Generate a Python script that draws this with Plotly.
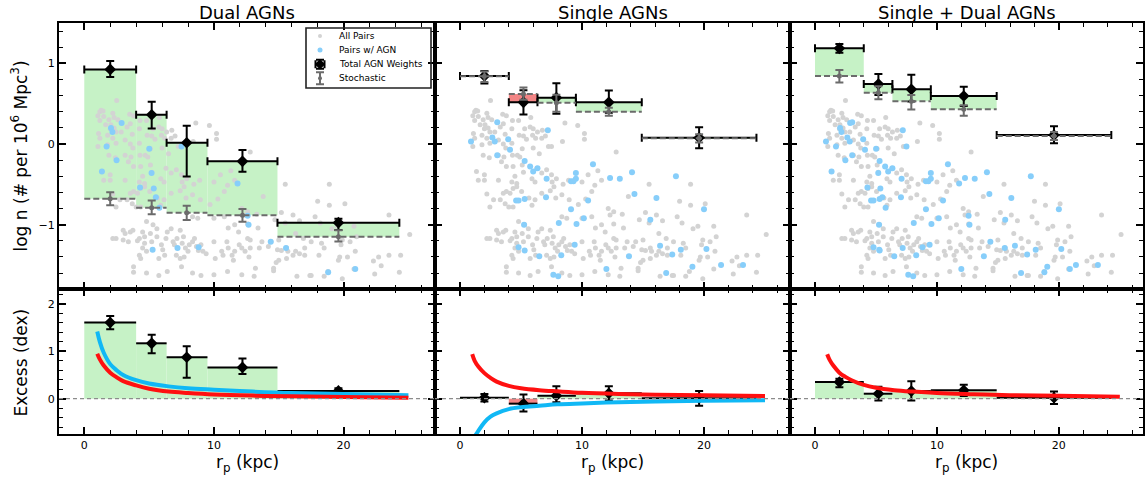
import plotly.graph_objects as go
from plotly.subplots import make_subplots

W, H = 1148, 482
FONT = "DejaVu Sans"

# ---------------- data ----------------
BIN_LO = [0.0, 4.0, 6.35, 9.5, 14.9]
BIN_HI = [4.0, 6.35, 9.5, 14.9, 24.3]
R_MID = [2.0, 5.2, 7.9, 12.2, 19.6]

# top row: log number density
DUAL_TOT = [0.925, 0.363, 0.016, -0.214, -0.975]
DUAL_TOT_UP = [0.105, 0.16, 0.21, 0.14, 0.05]
DUAL_TOT_DN = [0.095, 0.17, 0.42, 0.13, 0.09]
DUAL_STO = [-0.678, -0.789, -0.851, -0.884, -1.148]
DUAL_STO_UP = [0.08, 0.09, 0.085, 0.08, 0.08]
DUAL_STO_DN = [0.08, 0.08, 0.09, 0.08, 0.06]

SING_TOT = [0.843, 0.517, 0.574, 0.517, 0.078]
SING_TOT_UP = [0.062, 0.15, 0.178, 0.145, 0.13]
SING_TOT_DN = [0.093, 0.15, 0.20, 0.13, 0.13]
SING_STO = [0.84, 0.62, 0.51, 0.40, 0.07]
SING_STO_UP = [0.06, 0.08, 0.10, 0.05, 0.05]
SING_STO_DN = [0.07, 0.07, 0.11, 0.05, 0.05]

BOTH_TOT = [1.186, 0.743, 0.678, 0.595, 0.111]
BOTH_TOT_UP = [0.055, 0.125, 0.18, 0.115, 0.11]
BOTH_TOT_DN = [0.055, 0.135, 0.15, 0.125, 0.10]
BOTH_STO = [0.843, 0.636, 0.529, 0.43, 0.10]
BOTH_STO_UP = [0.075, 0.08, 0.08, 0.05, 0.05]
BOTH_STO_DN = [0.08, 0.08, 0.10, 0.08, 0.05]

# bottom row: excess (dex)
DUAL_EXC = [1.607, 1.17, 0.875, 0.66, 0.163]
DUAL_EXC_UP = [0.14, 0.18, 0.235, 0.19, 0.06]
DUAL_EXC_DN = [0.14, 0.21, 0.435, 0.14, 0.05]
SING_EXC = [0.02, -0.105, 0.063, 0.113, 0.01]
SING_EXC_UP = [0.08, 0.195, 0.20, 0.15, 0.15]
SING_EXC_DN = [0.08, 0.165, 0.14, 0.15, 0.16]
BOTH_EXC = [0.35, 0.105, 0.16, 0.177, 0.02]
BOTH_EXC_UP = [0.07, 0.145, 0.21, 0.12, 0.13]
BOTH_EXC_DN = [0.11, 0.145, 0.20, 0.12, 0.13]

# model curves
CURVE_R = [1.0, 1.2, 1.5, 2.0, 2.5, 3.0, 4.0, 5.0, 6.5, 8.0, 10.0, 13.0, 16.0, 20.0, 25.0]
DUAL_BLUE = [1.42, 1.20, 0.97, 0.73, 0.60, 0.50, 0.39, 0.32, 0.26, 0.22, 0.19, 0.15, 0.12, 0.10, 0.07]
DUAL_RED = [0.95, 0.83, 0.70, 0.55, 0.45, 0.37, 0.28, 0.21, 0.15, 0.12, 0.09, 0.065, 0.05, 0.035, 0.02]
SING_RED = [0.94, 0.80, 0.68, 0.54, 0.44, 0.36, 0.27, 0.22, 0.18, 0.155, 0.125, 0.10, 0.085, 0.07, 0.055]
SING_BLUE_R = [1.2, 1.5, 2.0, 2.5, 3.0, 4.0, 5.0, 6.5, 8.0, 10.0, 13.0, 16.0, 20.0, 25.0]
SING_BLUE = [-0.80, -0.68, -0.50, -0.38, -0.31, -0.22, -0.18, -0.15, -0.12, -0.10, -0.075, -0.06, -0.045, -0.035]
BOTH_RED = [0.94, 0.82, 0.70, 0.55, 0.46, 0.39, 0.29, 0.23, 0.18, 0.15, 0.12, 0.095, 0.075, 0.06, 0.04]

# all pairs (grey) : r_p (kpc), log n
ALL_R = [2.5, 1.3, 1.2, 1.45, 1.05, 1.5, 2.2, 2.3, 1.9, 1.2, 1.65, 2.05, 2.6, 3.5, 3.8, 4.3, 3.55, 4.8, 5.8, 5.3,
         5.75, 6.0, 6.35, 6.75, 2.3, 2.0, 2.45, 2.85, 3.3, 3.7, 4.25, 1.8, 1.1, 1.2, 2.2, 2.45, 1.8, 1.05, 3.15, 3.55,
         3.75, 4.25, 4.85, 5.2, 5.45, 5.95, 6.2, 6.7, 7.0, 7.25, 7.5, 6.5, 6.0, 5.1, 4.3, 4.7, 3.6, 3.4, 1.9, 2.4,
         3.15, 4.9, 5.1, 4.35, 3.8, 8.4, 8.6, 9.65, 10.2, 10.2, 6.3, 6.7, 7.1, 7.5, 2.0, 1.35, 1.5, 2.0, 3.15, 4.25,
         4.5, 4.65, 5.2, 5.9, 6.15, 7.55, 7.9, 8.45, 8.9, 10.0, 10.5, 11.3, 11.6, 2.2, 2.75, 3.3, 3.55, 3.8, 4.1, 4.35,
         4.65, 5.05, 3.7, 4.0, 2.45, 4.35, 5.65, 5.9, 6.15, 6.7, 7.4, 7.7, 7.85, 8.35, 8.95, 9.7, 10.3, 10.8, 11.05, 12.15,
         12.3, 11.6, 11.9, 11.1, 10.8, 10.0, 8.75, 8.35, 7.4, 6.7, 6.4, 6.3, 6.85, 4.8, 4.5, 4.65, 5.1, 5.2, 5.6, 3.55,
         3.75, 3.15, 2.45, 3.0, 3.4, 4.1, 4.5, 4.8, 4.35, 4.25, 5.95, 6.05, 6.2, 5.75, 6.95, 7.15, 7.65, 7.55, 7.8, 8.0,
         8.1, 8.35, 8.5, 8.65, 8.8, 9.0, 9.15, 9.4, 10.0, 10.1, 10.6, 10.7, 11.0, 11.1, 11.4, 11.5, 11.6, 11.95, 12.15, 7.1,
         7.4, 7.7, 3.8, 3.8, 4.8, 5.75, 6.4, 8.35, 9.0, 10.0, 11.05, 12.15, 7.5, 2.2, 3.0, 5.3, 5.6, 4.25, 4.65,
         12.8, 15.5, 18.9, 13.8, 18.0, 18.9, 20.1, 23.5, 12.6, 13.3, 15.2, 16.1, 14.7, 15.5, 16.6, 17.8, 18.2, 19.1, 19.5, 20.8,
         25.1, 12.6, 13.4, 12.6, 12.8, 13.7, 14.4, 15.0, 14.2, 13.5, 12.8, 12.4, 12.7, 14.9, 15.2, 15.6, 15.7, 16.3, 16.3, 16.9,
         17.0, 17.5, 18.3, 18.5, 18.1, 17.0, 16.6, 16.1, 15.6, 15.0, 14.8, 14.6, 14.6, 13.2, 13.1, 16.4, 17.4, 17.5, 18.5, 18.8,
         19.7, 19.6, 19.9, 19.9, 20.5, 21.0, 20.9, 20.3, 20.8, 22.3, 22.7, 22.9, 23.5, 24.4, 24.3, 22.4, 19.8]
ALL_LOGN = [0.54, 0.42, 0.40, 0.41, 0.35, 0.34, 0.38, 0.33, 0.30, 0.29, 0.24, 0.24, 0.30, 0.37, 0.35, 0.29, 0.25, 0.29, 0.33, 0.19,
            0.21, 0.19, 0.15, 0.17, 0.20, 0.19, 0.15, 0.15, 0.21, 0.12, 0.19, 0.11, 0.13, 0.07, 0.07, 0.01, -0.01, -0.03, 0.05, 0.0,
            -0.05, 0.01, 0.11, 0.10, 0.06, 0.11, 0.07, 0.07, 0.10, -0.03, -0.03, -0.12, -0.05, -0.06, -0.14, -0.14, -0.16, -0.22, -0.14, -0.17,
            -0.14, -0.16, -0.26, -0.28, -0.28, 0.03, 0.26, 0.23, 0.06, 0.13, -0.30, -0.36, -0.32, -0.38, -0.38, -0.34, -0.45, -0.45, -0.45, -0.47,
            -0.40, -0.49, -0.35, -0.43, -0.47, -0.47, -0.43, -0.50, -0.45, -0.47, -0.38, -0.33, -0.45, -0.62, -0.69, -0.69, -0.61, -0.59, -0.61, -0.55,
            -0.53, -0.59, -0.74, -0.78, -0.78, -0.78, -0.67, -0.76, -0.69, -0.61, -0.58, -0.53, -0.67, -0.63, -0.69, -0.75, -0.68, -0.59, -0.51, -0.80,
            -0.88, -1.00, -1.09, -1.04, -0.90, -0.92, -0.92, -0.90, -1.07, -1.05, -1.09, -1.17, -1.21, -0.96, -1.09, -1.15, -1.11, -1.21, -1.15, -1.09,
            -1.07, -1.11, -1.17, -1.19, -1.21, -1.20, -1.29, -1.33, -1.42, -1.38, -1.25, -1.31, -1.38, -1.42, -1.25, -1.17, -1.15, -1.23, -1.29, -1.33,
            -1.25, -1.21, -1.17, -1.27, -1.32, -1.25, -1.33, -1.36, -1.21, -1.42, -1.33, -1.38, -1.21, -1.29, -1.38, -1.44, -1.33, -1.25, -1.29, -1.38,
            -1.42, -1.40, -1.52, -1.59, -1.60, -1.63, -1.58, -1.60, -1.63, -1.62, -1.58, -1.62, -1.52, -1.17, -1.07, -1.00, -1.05, -1.17, -1.23,
            -0.10, -0.50, -0.50, -0.65, -0.71, -0.76, -0.74, -0.88, -0.84, -0.87, -0.85, -0.88, -0.94, -0.98, -0.95, -0.90, -0.98, -1.05, -1.02, -1.02,
            -1.12, -0.99, -1.04, -1.17, -1.19, -1.21, -1.21, -1.19, -1.27, -1.29, -1.29, -1.33, -1.40, -1.31, -1.32, -1.29, -1.33, -1.11, -1.33, -1.17,
            -1.29, -1.21, -1.23, -1.29, -1.38, -1.38, -1.36, -1.38, -1.42, -1.44, -1.47, -1.54, -1.57, -1.54, -1.64, -1.64, -1.63, -1.63, -1.64, -1.58,
            -1.40, -1.44, -1.67, -1.19, -1.21, -1.15, -1.33, -1.40, -1.55, -1.45, -1.40, -1.51, -1.38, -1.38, -1.59, -1.61, -1.25]

# pairs hosting a dual AGN (blue, left panel)
DUAL_AGN_R = [2.06, 2.17, 2.88, 1.72, 2.49, 1.36, 5.01, 5.19, 4.30, 5.36, 5.52, 5.79, 7.50, 11.82, 12.60, 12.67,
              14.38, 15.56, 5.27, 7.19, 8.82, 18.81, 20.90]
DUAL_AGN_LOGN = [0.20, 0.15, 0.26, -0.03, -0.20, -0.34, -0.06, -0.36, -0.54, -0.55, -0.66, -0.79, -0.03, -0.49, -0.89, -1.00,
                 -1.21, -1.29, -1.31, -1.29, -1.28, -1.59, -1.55]
# pairs hosting a single AGN (blue, middle panel)
SING_AGN_R = [3.05, 0.9, 2.65, 2.85, 3.95, 4.1, 3.05, 7.2, 5.3, 5.75, 6.35, 6.0, 7.1, 9.5, 9.5, 9.1, 9.3, 10.9, 12.3,
              4.6, 4.8, 5.3, 7.05, 10.5, 9.1, 10.15, 9.55, 8.1, 5.25, 9.4, 4.8, 5.3, 6.5, 8.3, 7.65, 8.05, 12.0,
              13.1, 14.1, 17.7, 14.3, 16.1, 20.0, 15.6, 16.4, 18.1, 17.4, 20.2, 13.85, 19.05, 21.4, 23.2, 16.9]
SING_AGN_LOGN = [0.27, 0.03, 0.08, 0.03, 0.06, -0.07, -0.14, 0.17, -0.21, -0.28, -0.30, -0.34, -0.43, -0.36, -0.43, -0.46, -0.46, -0.25, -0.42,
                 -0.70, -0.70, -0.68, -0.66, -0.70, -0.81, -0.92, -0.99, -0.98, -1.00, -1.25, -1.28, -1.32, -1.39, -1.38, -1.62, -1.64, -1.55,
                 -0.43, -0.35, -0.40, -0.62, -0.67, -0.81, -0.94, -1.26, -1.31, -1.37, -1.30, -1.39, -1.52, -1.50, -1.50, -1.60]

TITLES = ["Dual AGNs", "Single AGNs", "Single + Dual AGNs"]
LEG_LABELS = ["All Pairs", "Pairs w/ AGN", "Total AGN Weights", "Stochastic"]

# ---------------- styles ----------------
GREY_DOT = "#d3d3d3"
BLUE_DOT = "#87cefa"
GREEN_BOX = "#c6f2c6"
RED_BOX = "#f28585"
STO_COL = "#6b6b6b"
RED_LINE = "#ff1010"
BLUE_LINE = "#10b8f5"

fig = make_subplots(rows=2, cols=3)

PX_X = [(59, 435), (435, 790), (790, 1143)]
XR = [[-1.95, 27.05], [-2.05, 27.05], [-2.05, 26.9]]
TOP_PX = (23, 289)
BOT_PX = (289, 434)


def dom_x(a, b):
    return [a / W, b / W]


def dom_y(t, b):
    return [1 - b / H, 1 - t / H]


def boxes(col, row, lo, hi, base, top):
    xs, ws, bs, hs, cs = [], [], [], [], []
    for l, h, b, t in zip(lo, hi, base, top):
        xs.append((l + h) / 2)
        ws.append(h - l)
        bs.append(min(b, t))
        hs.append(abs(t - b))
        cs.append(GREEN_BOX if t >= b else RED_BOX)
    fig.add_trace(go.Bar(x=xs, y=hs, base=bs, width=ws, marker=dict(color=cs, line=dict(width=0)),
                         showlegend=False, hoverinfo="skip"), row=row, col=col)


def step_dashed(col, lo, hi, lev):
    xs, ys = [], []
    for l, h, v in zip(lo, hi, lev):
        xs += [l, h, None]
        ys += [v, v, None]
    fig.add_trace(go.Scatter(x=xs, y=ys, mode="lines", line=dict(color=STO_COL, width=2, dash="6px,3px"),
                             showlegend=False, hoverinfo="skip"), row=1, col=col)


panels_top = [
    (DUAL_TOT, DUAL_TOT_UP, DUAL_TOT_DN, DUAL_STO, DUAL_STO_UP, DUAL_STO_DN),
    (SING_TOT, SING_TOT_UP, SING_TOT_DN, SING_STO, SING_STO_UP, SING_STO_DN),
    (BOTH_TOT, BOTH_TOT_UP, BOTH_TOT_DN, BOTH_STO, BOTH_STO_UP, BOTH_STO_DN),
]
panels_bot = [
    (DUAL_EXC, DUAL_EXC_UP, DUAL_EXC_DN),
    (SING_EXC, SING_EXC_UP, SING_EXC_DN),
    (BOTH_EXC, BOTH_EXC_UP, BOTH_EXC_DN),
]
blue_sets = [
    (DUAL_AGN_R, DUAL_AGN_LOGN),
    (SING_AGN_R, SING_AGN_LOGN),
    (DUAL_AGN_R + SING_AGN_R, DUAL_AGN_LOGN + SING_AGN_LOGN),
]

x_plus = [h - m for h, m in zip(BIN_HI, R_MID)]
x_minus = [m - l for l, m in zip(BIN_LO, R_MID)]

for i in range(3):
    col = i + 1
    tot, tu, td, sto, su, sd = panels_top[i]
    boxes(col, 1, BIN_LO, BIN_HI, sto, tot)
    fig.add_trace(go.Scatter(x=ALL_R, y=ALL_LOGN, mode="markers",
                             marker=dict(color=GREY_DOT, size=5, line=dict(width=0)),
                             showlegend=False, hoverinfo="skip"), row=1, col=col)
    br, bl = blue_sets[i]
    fig.add_trace(go.Scatter(x=br, y=bl, mode="markers",
                             marker=dict(color=BLUE_DOT, size=6, line=dict(width=0)),
                             showlegend=False, hoverinfo="skip"), row=1, col=col)
    fig.add_trace(go.Scatter(x=R_MID, y=tot, mode="markers",
                             marker=dict(symbol="diamond", size=9, color="black"),
                             error_y=dict(type="data", symmetric=False, array=tu, arrayminus=td,
                                          color="black", thickness=2, width=4),
                             error_x=dict(type="data", symmetric=False, array=x_plus, arrayminus=x_minus,
                                          color="black", thickness=2, width=4),
                             showlegend=False, hoverinfo="skip"), row=1, col=col)
    step_dashed(col, BIN_LO, BIN_HI, sto)
    fig.add_trace(go.Scatter(x=R_MID, y=sto, mode="markers",
                             marker=dict(symbol="circle", size=5, color=STO_COL),
                             error_y=dict(type="data", symmetric=False, array=su, arrayminus=sd,
                                          color=STO_COL, thickness=2, width=4),
                             showlegend=False, hoverinfo="skip"), row=1, col=col)

    exc, eu, ed = panels_bot[i]
    boxes(col, 2, BIN_LO, BIN_HI, [0] * 5, exc)
    fig.add_shape(type="line", xref=f"x{col + 3} domain", yref=f"y{col + 3}", x0=0, x1=1, y0=0, y1=0,
                  line=dict(color="#8c8c8c", width=1.2, dash="4px,3px"), layer="above")
    fig.add_trace(go.Scatter(x=R_MID, y=exc, mode="markers",
                             marker=dict(symbol="diamond", size=9, color="black"),
                             error_y=dict(type="data", symmetric=False, array=eu, arrayminus=ed,
                                          color="black", thickness=2, width=4),
                             error_x=dict(type="data", symmetric=False, array=x_plus, arrayminus=x_minus,
                                          color="black", thickness=2, width=0),
                             showlegend=False, hoverinfo="skip"), row=2, col=col)

fig.add_trace(go.Scatter(x=CURVE_R, y=DUAL_BLUE, mode="lines", line=dict(color=BLUE_LINE, width=4, shape="spline"),
                         showlegend=False, hoverinfo="skip"), row=2, col=1)
fig.add_trace(go.Scatter(x=CURVE_R, y=DUAL_RED, mode="lines", line=dict(color=RED_LINE, width=4, shape="spline"),
                         showlegend=False, hoverinfo="skip"), row=2, col=1)
fig.add_trace(go.Scatter(x=CURVE_R, y=SING_RED, mode="lines", line=dict(color=RED_LINE, width=4, shape="spline"),
                         showlegend=False, hoverinfo="skip"), row=2, col=2)
fig.add_trace(go.Scatter(x=SING_BLUE_R, y=SING_BLUE, mode="lines", line=dict(color=BLUE_LINE, width=4, shape="spline"),
                         showlegend=False, hoverinfo="skip"), row=2, col=2)
fig.add_trace(go.Scatter(x=CURVE_R, y=BOTH_RED, mode="lines", line=dict(color=RED_LINE, width=4, shape="spline"),
                         showlegend=False, hoverinfo="skip"), row=2, col=3)

# ---------------- axes ----------------
axis_common = dict(showline=True, linecolor="black", linewidth=2, mirror="allticks", ticks="inside",
                   ticklen=7, tickwidth=1.6, tickcolor="black", showgrid=False, zeroline=False,
                   tickfont=dict(family=FONT, size=11, color="black"))

for i in range(3):
    a, b = PX_X[i]
    for row in (1, 2):
        n = i + 1 + (row - 1) * 3
        xkey = "xaxis" if n == 1 else f"xaxis{n}"
        ykey = "yaxis" if n == 1 else f"yaxis{n}"
        fig.layout[xkey].update(domain=dom_x(a, b), range=XR[i], tick0=0, dtick=10,
                                showticklabels=(row == 2),
                                minor=dict(ticks="inside", dtick=2, tick0=0, ticklen=4, tickwidth=1.4,
                                           tickcolor="black", showgrid=False),
                                **axis_common)
        yr = [-1.797, 1.5] if row == 1 else [-0.746, 2.317]
        ydom = dom_y(*TOP_PX) if row == 1 else dom_y(*BOT_PX)
        fig.layout[ykey].update(domain=ydom, range=yr, tick0=0, dtick=1,
                                showticklabels=(i == 0),
                                minor=dict(ticks="inside", dtick=0.2, tick0=0, ticklen=4, tickwidth=1.4,
                                           tickcolor="black", showgrid=False),
                                **axis_common)

# ---------------- legend (drawn inside the first panel) ----------------
LEG_L, LEG_R, LEG_T, LEG_B = 306, 431, 28, 88
fig.update_layout(
    xaxis7=dict(domain=dom_x(LEG_L, LEG_R), range=[0, 1], visible=False, anchor="y7", fixedrange=True),
    yaxis7=dict(domain=dom_y(LEG_T, LEG_B), range=[0, 1], visible=False, anchor="x7", fixedrange=True),
)
LEG_ROWS = [0.867, 0.633, 0.395, 0.162]
fig.add_trace(go.Scatter(x=[0.112], y=[LEG_ROWS[0]], xaxis="x7", yaxis="y7", mode="markers",
                         marker=dict(color=GREY_DOT, size=4), showlegend=False, hoverinfo="skip"))
fig.add_trace(go.Scatter(x=[0.112], y=[LEG_ROWS[1]], xaxis="x7", yaxis="y7", mode="markers",
                         marker=dict(color=BLUE_DOT, size=5), showlegend=False, hoverinfo="skip"))
fig.add_trace(go.Scatter(x=[0.112], y=[LEG_ROWS[2]], xaxis="x7", yaxis="y7", mode="markers",
                         marker=dict(symbol="diamond", color="black", size=8),
                         error_x=dict(type="constant", value=0.036, color="black", thickness=2, width=4),
                         error_y=dict(type="constant", value=0.075, color="black", thickness=2, width=4),
                         showlegend=False, hoverinfo="skip"))
fig.add_trace(go.Scatter(x=[0.112], y=[LEG_ROWS[3]], xaxis="x7", yaxis="y7", mode="markers",
                         marker=dict(color=STO_COL, size=4),
                         error_y=dict(type="constant", value=0.1, color=STO_COL, thickness=2, width=4),
                         showlegend=False, hoverinfo="skip"))
fig.add_shape(type="rect", xref="paper", yref="paper", x0=LEG_L / W, x1=LEG_R / W,
              y0=1 - LEG_B / H, y1=1 - LEG_T / H, line=dict(color="#222222", width=1.6), layer="above")

annotations = []
for lab, ry in zip(LEG_LABELS, LEG_ROWS):
    ypx = LEG_B - ry * (LEG_B - LEG_T)
    annotations.append(dict(text=lab, xref="paper", yref="paper", x=337 / W, y=1 - ypx / H,
                            xanchor="left", yanchor="middle", showarrow=False,
                            font=dict(family=FONT, size=9, color="black")))

for i, t in enumerate(TITLES):
    a, b = PX_X[i]
    annotations.append(dict(text=t, xref="paper", yref="paper", x=(a + b) / 2 / W, y=1 - 12 / H,
                            xanchor="center", yanchor="middle", showarrow=False,
                            font=dict(family=FONT, size=18, color="black")))
    annotations.append(dict(text="r<sub>p</sub> (kpc)", xref="paper", yref="paper", x=(a + b) / 2 / W,
                            y=1 - 463 / H, xanchor="center", yanchor="middle", showarrow=False,
                            font=dict(family=FONT, size=17, color="black")))

annotations.append(dict(text="log n (# per 10<sup>6</sup> Mpc<sup>3</sup>)", xref="paper", yref="paper",
                        x=20 / W, y=1 - 156.5 / H, xanchor="center", yanchor="middle", textangle=-90,
                        showarrow=False, font=dict(family=FONT, size=17, color="black")))
annotations.append(dict(text="Excess (dex)", xref="paper", yref="paper",
                        x=20 / W, y=1 - 362.5 / H, xanchor="center", yanchor="middle", textangle=-90,
                        showarrow=False, font=dict(family=FONT, size=17, color="black")))

fig.update_layout(
    width=W, height=H, margin=dict(l=0, r=0, t=0, b=0),
    paper_bgcolor="white", plot_bgcolor="rgba(0,0,0,0)",
    barmode="overlay", showlegend=False, annotations=annotations,
    font=dict(family=FONT, color="black"),
)

fig.write_html("out.html")
